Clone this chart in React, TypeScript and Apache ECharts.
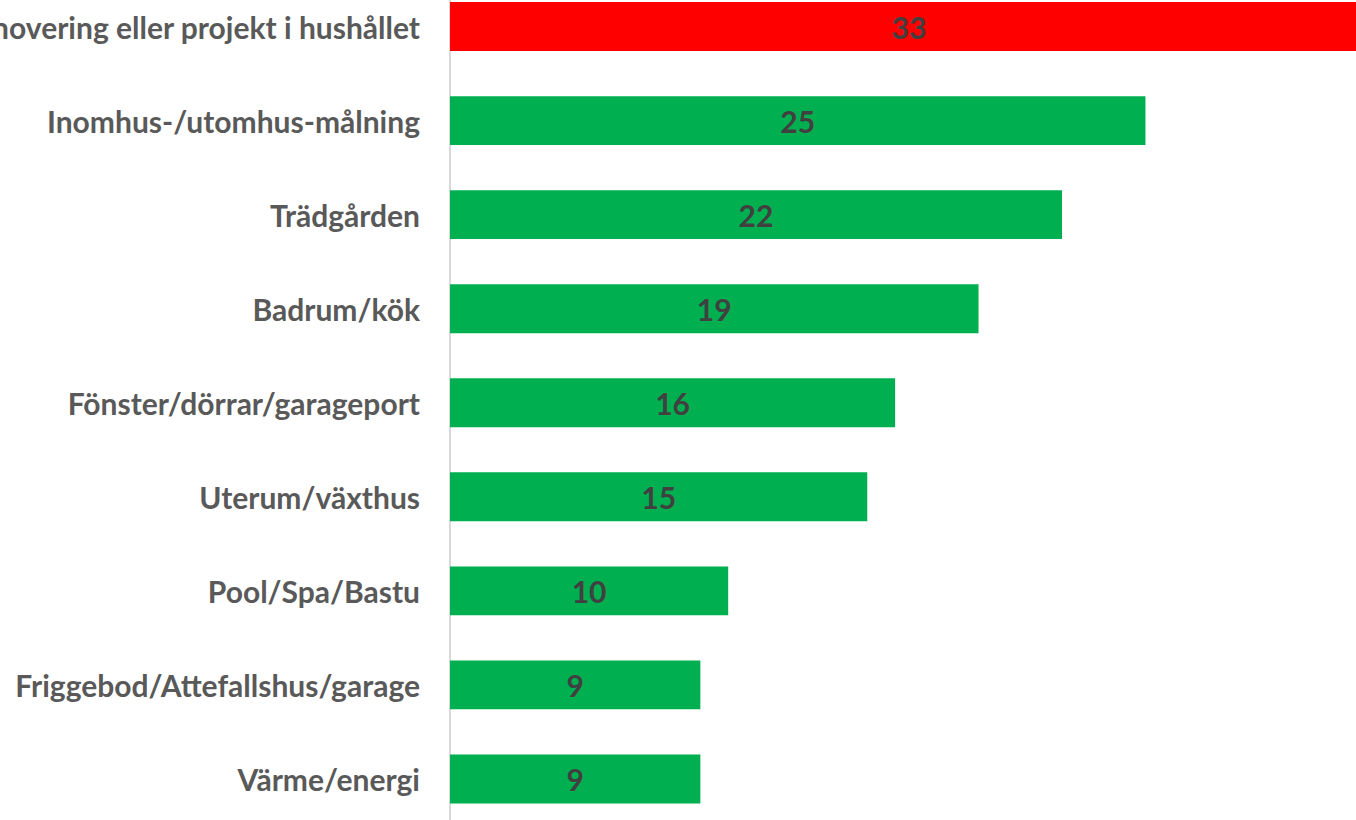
import React, { useEffect, useRef } from "react";
import * as echarts from "echarts";

const categories = [
  "Renovering eller projekt i hushållet",
  "Inomhus-/utomhus-målning",
  "Trädgården",
  "Badrum/kök",
  "Fönster/dörrar/garageport",
  "Uterum/växthus",
  "Pool/Spa/Bastu",
  "Friggebod/Attefallshus/garage",
  "Värme/energi",
];
const values = [33, 25, 22, 19, 16, 15, 10, 9, 9];
const highlightIndex = 0;

export default function App() {
  const ref = useRef<HTMLDivElement>(null);
  useEffect(() => {
    if (!ref.current) return;
    const chart = echarts.init(ref.current, null, { renderer: "svg" });
    const cats = [...categories].reverse();
    const vals = [...values].reverse();
    const n = categories.length;
    chart.setOption({
      animation: false,
      grid: {
        left: 450,
        right: -12,
        top: -20.5,
        bottom: -6,
        containLabel: false,
        outerBoundsMode: "none",
      },
      xAxis: {
        type: "value",
        min: 0,
        max: 33,
        show: false,
      },
      yAxis: {
        type: "category",
        data: cats,
        axisLine: { show: true, lineStyle: { color: "#d9d9d9", width: 2 } },
        axisTick: { show: false },
        axisLabel: {
          margin: 30,
          color: "#595959",
          fontFamily: "Lato",
          fontWeight: "bold",
          fontSize: 30,
          hideOverlap: false,
        },
      },
      series: [
        {
          type: "bar",
          data: vals.map((v, i) => ({
            value: v,
            itemStyle: { color: n - 1 - i === highlightIndex ? "#ff0000" : "#00b050" },
          })),
          barCategoryGap: "48%",
          label: {
            show: true,
            position: "inside",
            color: "#404040",
            fontFamily: "Lato",
            fontWeight: "bold",
            fontSize: 30,
          },
        },
      ],
    });
    return () => chart.dispose();
  }, []);
  return (
    <div
      ref={ref}
      style={{ position: "fixed", left: 0, top: 0, width: 1356, height: 820, background: "#fff" }}
    />
  );
}
